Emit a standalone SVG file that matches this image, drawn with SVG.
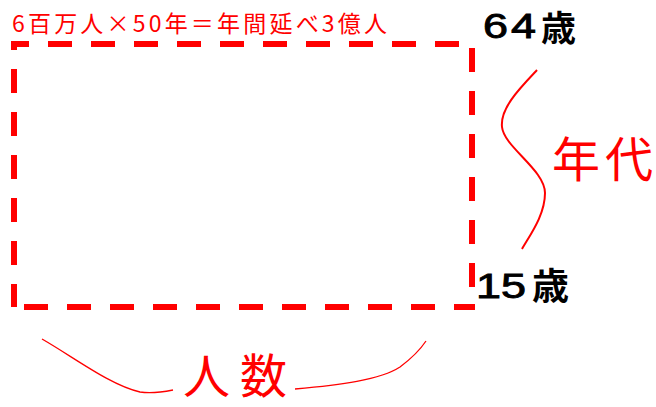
<svg xmlns="http://www.w3.org/2000/svg" width="656" height="407" viewBox="0 0 656 407">
<style>
.jp{font-family:"Noto Sans CJK JP","Noto Sans",sans-serif;}
.num{font-family:"Liberation Sans",Arial,sans-serif;font-weight:normal;fill:#000;stroke:#000;stroke-width:0.9;}
.red{fill:#ff0000;}
.blk{fill:#000;font-weight:bold;}
.curve{fill:none;stroke:#ff0000;}
.dash{fill:none;stroke:#ff0000;stroke-width:6;stroke-dasharray:24 19;}
</style>
<rect width="656" height="407" fill="#fff"/>
<g id="box">
<path class="dash" d="M11,44 H472" stroke-dashoffset="6"/>
<path class="dash" d="M472,44 V307" stroke-dashoffset="39"/>
<path class="dash" d="M14,307 H475" stroke-dashoffset="33"/>
<path class="dash" d="M14,44 V307" stroke-dashoffset="18"/>
</g>
<g id="title">
<text class="jp red" x="12" y="32" font-size="23" textLength="375" lengthAdjust="spacing">6百万人×50年＝年間延べ3億人</text>
</g>
<g id="age64">
<text class="num" x="483" y="38" font-size="35" textLength="25" lengthAdjust="spacingAndGlyphs">6</text>
<text class="num" x="511" y="38" font-size="35" textLength="25" lengthAdjust="spacingAndGlyphs">4</text>
<text class="jp blk" x="541" y="41" font-size="35">歳</text>
</g>
<g id="age15">
<text class="num" x="476" y="298" font-size="35" textLength="25" lengthAdjust="spacingAndGlyphs">1</text>
<text class="num" x="501" y="298" font-size="35" textLength="25" lengthAdjust="spacingAndGlyphs">5</text>
<text class="jp blk" x="532" y="300" font-size="37">歳</text>
</g>
<g id="nendai">
<text class="jp red" x="552" y="177" font-size="48" textLength="101" lengthAdjust="spacing">年代</text>
</g>
<g id="ninzu">
<text class="jp red" x="183" y="393" font-size="47" textLength="104" lengthAdjust="spacing">人数</text>
</g>
<g id="connectors">
<path class="curve" stroke-width="2" d="M537,70 C520,88 500,108 502,127 C504,147 545,170 545,193 C545,215 530,235 522,249"/>
<path class="curve" stroke-width="1.3" d="M42,339 C75,358 110,385 140,392 C152,394 163,392 173,390"/>
<path class="curve" stroke-width="1.3" d="M295,389 C340,385 380,380 400,367 C412,358 420,350 426,341"/>
</g>
</svg>
